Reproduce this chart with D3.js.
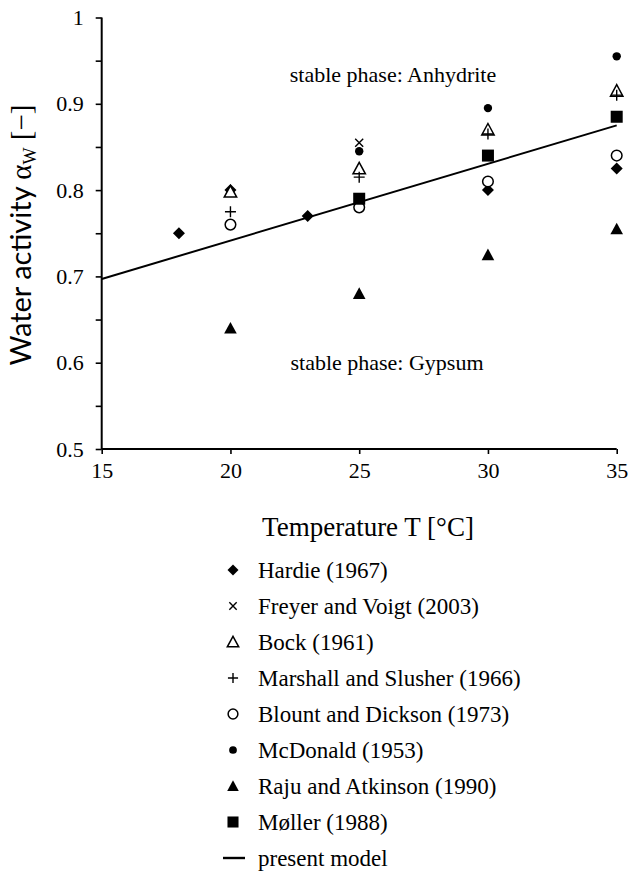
<!DOCTYPE html>
<html><head><meta charset="utf-8">
<script src="https://cdn.jsdelivr.net/npm/d3@7/dist/d3.min.js"></script>
<style>body{margin:0;background:#fff}</style>
</head><body>
<script>
// ---- data ----
const hardieT = [18, 20, 23, 30, 35];
const hardieAw = [0.75, 0.80, 0.77, 0.80, 0.825];
const freyerT = [25];
const freyerAw = [0.855];
const bockT = [20, 25, 30, 35];
const bockAw = [0.798, 0.825, 0.87, 0.915];
const marshallT = [20, 25, 30, 35];
const marshallAw = [0.775, 0.815, 0.865, 0.91];
const blountT = [20, 25, 30, 35];
const blountAw = [0.76, 0.78, 0.81, 0.84];
const mcdonaldT = [25, 30, 35];
const mcdonaldAw = [0.845, 0.895, 0.955];
const rajuT = [20, 25, 30, 35];
const rajuAw = [0.64, 0.68, 0.725, 0.755];
const mollerT = [25, 30, 35];
const mollerAw = [0.79, 0.84, 0.885];
const modelT = [15, 35];
const modelAw = [0.697, 0.875];
const xTicks = [15, 20, 25, 30, 35];
const yTicks = [0.5, 0.55, 0.6, 0.65, 0.7, 0.75, 0.8, 0.85, 0.9, 0.95, 1];
const seriesNames = ["Hardie (1967)", "Freyer and Voigt (2003)", "Bock (1961)",
  "Marshall and Slusher (1966)", "Blount and Dickson (1973)", "McDonald (1953)",
  "Raju and Atkinson (1990)", "Møller (1988)", "present model"];

const series = [
  {name: seriesNames[0], T: hardieT, aw: hardieAw, sym: "diamond"},
  {name: seriesNames[1], T: freyerT, aw: freyerAw, sym: "x"},
  {name: seriesNames[2], T: bockT, aw: bockAw, sym: "otri"},
  {name: seriesNames[3], T: marshallT, aw: marshallAw, sym: "plus"},
  {name: seriesNames[4], T: blountT, aw: blountAw, sym: "ocircle"},
  {name: seriesNames[5], T: mcdonaldT, aw: mcdonaldAw, sym: "fcircle"},
  {name: seriesNames[6], T: rajuT, aw: rajuAw, sym: "ftri"},
  {name: seriesNames[7], T: mollerT, aw: mollerAw, sym: "square"}
];

const W = 629, H = 874;
const svg = d3.select("body").append("svg").attr("width", W).attr("height", H);
const serif = "'Liberation Serif','Times New Roman',serif";

const x = d3.scaleLinear().domain([15, 35]).range([101.7, 616.7]);
const y = d3.scaleLinear().domain([0.5, 1]).range([449, 17.5]);

// axes
const xAxis = d3.axisBottom(x).tickValues(xTicks).tickSize(5).tickPadding(8).tickFormat(d3.format("d"));
const yAxis = d3.axisLeft(y).tickValues(yTicks).tickSize(6).tickPadding(12)
  .tickFormat(d => (Math.round(d * 100) % 10 === 0) ? (d === 1 ? "1" : d3.format(".1f")(d)) : "");

const gx = svg.append("g").attr("transform", `translate(0,${y(0.5)})`).call(xAxis);
const gy = svg.append("g").attr("transform", `translate(${x(15)},0)`).call(yAxis);
[gx, gy].forEach(g => {
  g.attr("font-family", serif).attr("font-size", 22);
  g.select(".domain").attr("stroke", "#000").attr("stroke-width", 2);
  g.selectAll(".tick line").attr("stroke", "#000").attr("stroke-width", 1.6);
  g.selectAll(".tick text").attr("font-family", serif).attr("font-size", 22).attr("fill", "#000");
});
gx.select(".domain").attr("d", `M${x(15)},0H${x(35)}`);
gy.select(".domain").attr("d", `M0,${y(0.5)}V${y(1)}`);

// model line
const line = d3.line().x((d, i) => x(d)).y((d, i) => y(modelAw[i]));
svg.append("path").datum(modelT).attr("d", line).attr("fill", "none")
  .attr("stroke", "#000").attr("stroke-width", 2);

// symbols
function drawSym(g, sym, cx, cy, k) {
  if (sym === "diamond") {
    const r = 6 * k;
    g.append("path").attr("d", `M${cx},${cy - r}L${cx + r},${cy}L${cx},${cy + r}L${cx - r},${cy}Z`).attr("fill", "#000");
  } else if (sym === "x") {
    const r = 4 * k;
    g.append("path").attr("d", `M${cx - r},${cy - r}L${cx + r},${cy + r}M${cx - r},${cy + r}L${cx + r},${cy - r}`)
      .attr("stroke", "#000").attr("stroke-width", 1.4);
  } else if (sym === "otri") {
    const r = 6.2 * k;
    g.append("path").attr("d", `M${cx},${cy - r}L${cx + r},${cy + r*0.85}L${cx - r},${cy + r*0.85}Z`)
      .attr("fill", "#fff").attr("stroke", "#000").attr("stroke-width", 1.5);
  } else if (sym === "ftri") {
    const r = 6.3 * k;
    g.append("path").attr("d", `M${cx},${cy - r}L${cx + r},${cy + r*0.85}L${cx - r},${cy + r*0.85}Z`)
      .attr("fill", "#000");
  } else if (sym === "plus") {
    const r = 5.5 * k;
    g.append("path").attr("d", `M${cx - r},${cy}L${cx + r},${cy}M${cx},${cy - r}L${cx},${cy + r}`)
      .attr("stroke", "#000").attr("stroke-width", 1.4);
  } else if (sym === "ocircle") {
    g.append("circle").attr("cx", cx).attr("cy", cy).attr("r", 5.3 * k)
      .attr("fill", "#fff").attr("stroke", "#000").attr("stroke-width", 1.5);
  } else if (sym === "fcircle") {
    g.append("circle").attr("cx", cx).attr("cy", cy).attr("r", 4.2 * k).attr("fill", "#000");
  } else if (sym === "square") {
    const r = 6 * k;
    g.append("rect").attr("x", cx - r).attr("y", cy - r).attr("width", 2*r).attr("height", 2*r).attr("fill", "#000");
  }
}

const pts = svg.append("g");
series.forEach(s => {
  s.T.forEach((t, i) => drawSym(pts, s.sym, x(t), y(s.aw[i]), 1));
});

// annotations
svg.append("text").attr("x", 393).attr("y", 82).attr("text-anchor", "middle")
  .attr("font-family", serif).attr("font-size", 22).text("stable phase: Anhydrite");
svg.append("text").attr("x", 387).attr("y", 370).attr("text-anchor", "middle")
  .attr("font-family", serif).attr("font-size", 22).text("stable phase: Gypsum");

// axis titles
svg.append("text").attr("x", 368).attr("y", 536).attr("text-anchor", "middle")
  .attr("font-family", serif).attr("font-size", 27).text("Temperature T [°C]");

const yt = svg.append("text").attr("transform", "translate(31,235) rotate(-90)")
  .attr("text-anchor", "middle").attr("font-size", 29);
yt.append("tspan").attr("font-family", "Lato,'Open Sans',sans-serif").text("Water activity ");
yt.append("tspan").attr("font-family", serif).text("α");
yt.append("tspan").attr("font-family", serif).attr("font-size", 18).attr("dy", 5).text("W");
yt.append("tspan").attr("font-family", serif).attr("dy", -5).text(" [−]");

// legend
const lg = svg.append("g");
const legY0 = 570, legDy = 36;
series.forEach((s, i) => {
  const cy = legY0 + i * legDy;
  drawSym(lg, s.sym, 233, cy, 0.92);
  lg.append("text").attr("x", 258).attr("y", cy + 8).attr("font-family", serif)
    .attr("font-size", 23).text(s.name);
});
const ly = legY0 + 8 * legDy;
lg.append("line").attr("x1", 223).attr("x2", 245).attr("y1", ly).attr("y2", ly)
  .attr("stroke", "#000").attr("stroke-width", 2.4);
lg.append("text").attr("x", 258).attr("y", ly + 8).attr("font-family", serif)
  .attr("font-size", 23).text(seriesNames[8]);
</script>
</body></html>
